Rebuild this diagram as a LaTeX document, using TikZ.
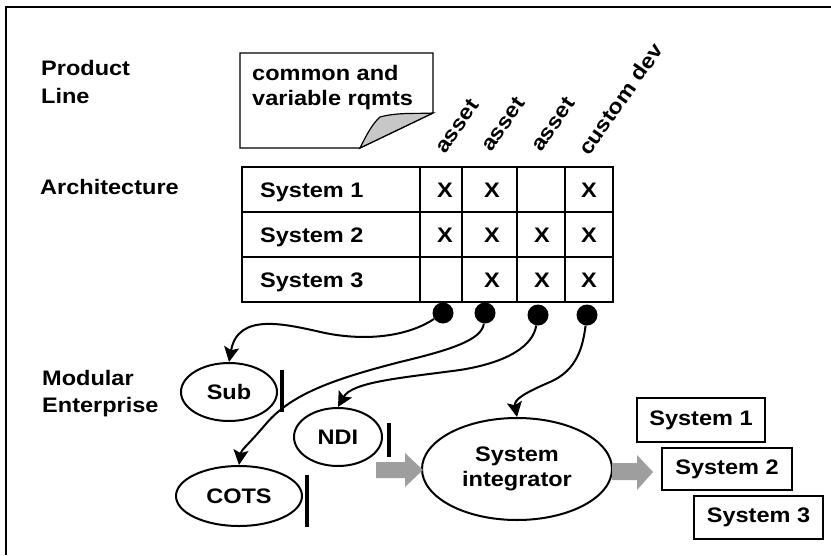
\documentclass[tikz,border=0pt]{standalone}
\usepackage{fontspec}
\setmainfont[FakeStretch=1.12]{Liberation Sans}
\usetikzlibrary{arrows.meta,shapes.geometric,calc}
\tikzset{
  lbl/.style={inner sep=0pt, font=\fontsize{21}{25}\selectfont\bfseries},
  oval/.style={ellipse, draw, line width=2pt, inner sep=0pt, font=\fontsize{21}{25}\selectfont\bfseries},
  sysbox/.style={draw, line width=2.2pt, inner sep=0pt, font=\fontsize{21}{25}\selectfont\bfseries},
  dot/.style={circle, fill=black, minimum size=21pt, inner sep=0pt},
  conn/.style={line width=2pt, -{Stealth[length=15pt,width=15pt,inset=3pt]}},
  bar/.style={line width=3.5pt},
  grid/.style={line width=1.1pt},
  blockarrow/.style={fill=black!38, draw=none},
}
\begin{document}
\begin{tikzpicture}[x=1pt,y=-1pt]
\useasboundingbox (0,0) rectangle (831,555);
% frame
\draw[line width=1.3pt] (6,555) -- (6,7) -- (831,7);

% left labels
\node[lbl, anchor=base west] (pl1) at (41,75) {Product};
\node[lbl, anchor=base west] (pl2) at (41,103) {Line};
\node[lbl, anchor=base west] (arch) at (40,194) {Architecture};
\node[lbl, anchor=base west] (me1) at (42,385) {Modular};
\node[lbl, anchor=base west] (me2) at (42,412) {Enterprise};

% callout note
\draw[line width=1.2pt, fill=white] (240,53) -- (433,53) -- (433,113) -- (360,148) -- (240,148) -- cycle;
\filldraw[line width=1.2pt, fill=black!22] (360,148) .. controls (366,136) and (372,124) .. (380,117)
   .. controls (398,112) and (418,114) .. (433,113) -- cycle;
\node[lbl, anchor=base west] (n1) at (252,80) {common and};
\node[lbl, anchor=base west] (n2) at (252,105) {variable rqmts};

% rotated column headers
\node[lbl, rotate=55, anchor=base west] (h1) at (445,155) {asset};
\node[lbl, rotate=55, anchor=base west] (h2) at (491,153) {asset};
\node[lbl, rotate=55, anchor=base west] (h3) at (541,153) {asset};
\node[lbl, rotate=55, anchor=base west] (h4) at (589,157) {custom dev};

% table
\draw[grid] (242,167) rectangle (613,302);
\draw[grid] (242,212) -- (613,212);
\draw[grid] (242,257) -- (613,257);
\foreach \x in {420,462,517,565} \draw[grid] (\x,167) -- (\x,302);
\node[lbl, anchor=base west] (r1) at (260,197) {System 1};
\node[lbl, anchor=base west] (r2) at (260,242) {System 2};
\node[lbl, anchor=base west] (r3) at (260,287) {System 3};
\node[lbl, anchor=base] (x11) at (445,197) {X};
\node[lbl, anchor=base] (x12) at (492,197) {X};
\node[lbl, anchor=base] (x14) at (589,197) {X};
\node[lbl, anchor=base] (x21) at (445,242) {X};
\node[lbl, anchor=base] (x22) at (492,242) {X};
\node[lbl, anchor=base] (x23) at (542,242) {X};
\node[lbl, anchor=base] (x24) at (589,242) {X};
\node[lbl, anchor=base] (x32) at (492,287) {X};
\node[lbl, anchor=base] (x33) at (542,287) {X};
\node[lbl, anchor=base] (x34) at (589,287) {X};

% dots
\node[dot] (d1) at (443,313) {};
\node[dot] (d2) at (485,313) {};
\node[dot] (d3) at (538,315) {};
\node[dot] (d4) at (587,315) {};

% ovals
\node[oval, minimum width=96pt, minimum height=58pt] (sub) at (229,392) {Sub};
\node[oval, minimum width=88pt, minimum height=58pt] (ndi) at (338,437) {NDI};
\node[oval, minimum width=126pt, minimum height=60pt] (cots) at (239,496) {COTS};
\node[oval, minimum width=190pt, minimum height=102pt, align=center] (integ) at (517,469) {System\\integrator};

% bars
\draw[bar] (282,370) -- (282,412);
\draw[bar] (389,423) -- (389,457);
\draw[bar] (307,475) -- (307,527);

% connectors
\draw[conn] (d1) .. controls (410,335) and (370,342) .. (325,333)
   .. controls (285,324) and (238,312) .. (sub.north);
\draw[conn] (d2) .. controls (482,340) and (450,350) .. (400,362)
   .. controls (330,380) and (290,395) .. (265,425)
   .. controls (248,445) and (241,450) .. (cots.north);
\draw[conn] (d3) .. controls (533,345) and (510,362) .. (460,370)
   .. controls (400,378) and (352,382) .. (ndi.north);
\draw[conn] (d4) .. controls (583,345) and (578,370) .. (550,382)
   .. controls (522,394) and (514,400) .. (integ.north);

% block arrows
\fill[blockarrow] (376,462) -- (405,462) -- (405,453) -- (423,470) -- (405,487) -- (405,478) -- (376,478) -- cycle;
\fill[blockarrow] (612,463) -- (637,463) -- (637,455) -- (653,472) -- (637,490) -- (637,480) -- (612,480) -- cycle;

% output systems
\node[sysbox, minimum width=128pt, minimum height=44pt] (s1) at (701,420) {System 1};
\node[sysbox, minimum width=130pt, minimum height=42pt] (s2) at (727,469) {System 2};
\node[sysbox, minimum width=129pt, minimum height=43pt] (s3) at (758.5,517.5) {System 3};
\end{tikzpicture}
\end{document}
